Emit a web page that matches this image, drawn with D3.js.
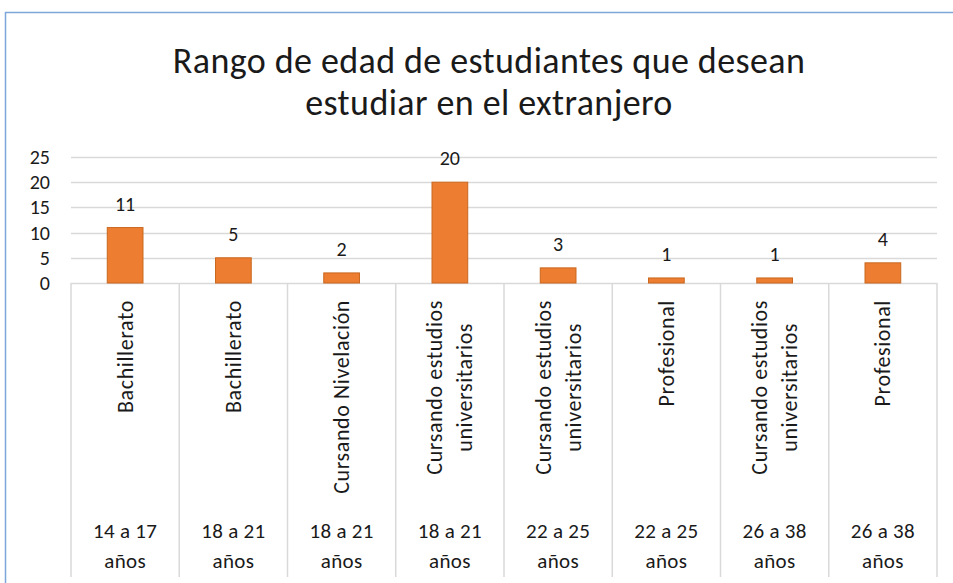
<!DOCTYPE html>
<html>
<head>
<meta charset="utf-8">
<script src="https://cdn.jsdelivr.net/npm/d3@7"></script>
<style>
  html, body { margin: 0; padding: 0; background: #fff; }
  svg text { font-family: Carlito, Calibri, Lato, sans-serif; fill: #1a1a1a; }
</style>
</head>
<body>
<div id="chart"></div>
<script>
// chart data
const titleLines = ['Rango de edad de estudiantes que desean', 'estudiar en el extranjero'];
const levels = [
  ['Bachillerato'],
  ['Bachillerato'],
  ['Cursando Nivelación'],
  ['Cursando estudios', 'universitarios'],
  ['Cursando estudios', 'universitarios'],
  ['Profesional'],
  ['Cursando estudios', 'universitarios'],
  ['Profesional']
];
const ageRanges = ['14 a 17', '18 a 21', '18 a 21', '18 a 21', '22 a 25', '22 a 25', '26 a 38', '26 a 38'];
const counts = [11, 5, 2, 20, 3, 1, 1, 4];
const yTicks = [0, 5, 10, 15, 20, 25];

const width = 953, height = 583;
const plot = { left: 71, right: 937, top: 157, bottom: 283 };

const svg = d3.select('#chart').append('svg')
  .attr('width', width)
  .attr('height', height);

// chart frame (only top and left edges visible in the crop)
svg.append('path')
  .attr('d', `M5.5,${height} L5.5,12.5 L${width},12.5`)
  .attr('fill', 'none')
  .attr('stroke', '#7ea6da')
  .attr('stroke-width', 1.5);

// title
svg.append('text')
  .attr('text-anchor', 'middle')
  .attr('font-size', 36)
  .attr('letter-spacing', 0.4)
  .selectAll('tspan')
  .data(titleLines)
  .join('tspan')
  .attr('x', 489)
  .attr('y', (d, i) => 73 + i * 42)
  .text(d => d);

const idx = d3.range(counts.length);
const x = d3.scaleBand()
  .domain(idx)
  .range([plot.left, plot.right])
  .paddingInner(0.67)
  .paddingOuter(0.335);
const step = x.step();

const y = d3.scaleLinear()
  .domain([0, 25])
  .range([plot.bottom, plot.top]);

// gridlines
svg.append('g')
  .selectAll('line')
  .data(yTicks.slice(1))
  .join('line')
  .attr('x1', plot.left).attr('x2', plot.right)
  .attr('y1', d => Math.round(y(d)) + 0.5)
  .attr('y2', d => Math.round(y(d)) + 0.5)
  .attr('stroke', '#d9d9d9')
  .attr('stroke-width', 1.5);

// y axis labels
svg.append('g')
  .selectAll('text')
  .data(yTicks)
  .join('text')
  .attr('x', 50)
  .attr('y', d => y(d))
  .attr('dy', '0.35em')
  .attr('text-anchor', 'end')
  .attr('font-size', 20)
  .text(d => d);

// category axis: baseline + separators
const axis = svg.append('g');
axis.append('line')
  .attr('x1', plot.left).attr('x2', plot.right)
  .attr('y1', plot.bottom + 0.5).attr('y2', plot.bottom + 0.5)
  .attr('stroke', '#d9d9d9')
  .attr('stroke-width', 1.5);
axis.selectAll('line.sep')
  .data(d3.range(counts.length + 1))
  .join('line')
  .attr('class', 'sep')
  .attr('x1', i => plot.left + i * step)
  .attr('x2', i => plot.left + i * step)
  .attr('y1', plot.bottom)
  .attr('y2', 577)
  .attr('stroke', '#d9d9d9')
  .attr('stroke-width', 1.5);

// bars
svg.append('g')
  .selectAll('rect')
  .data(counts)
  .join('rect')
  .attr('x', (d, i) => x(i))
  .attr('y', d => y(d))
  .attr('width', x.bandwidth())
  .attr('height', d => y(0) - y(d))
  .attr('fill', '#ed7d31')
  .attr('stroke', '#c9671f')
  .attr('stroke-width', 1);

// data labels
svg.append('g')
  .selectAll('text')
  .data(counts)
  .join('text')
  .attr('x', (d, i) => x(i) + x.bandwidth() / 2)
  .attr('y', d => y(d) - 17)
  .attr('text-anchor', 'middle')
  .attr('font-size', 20)
  .text(d => d);

// rotated inner level labels, anchored at the top, lines centred on each other
const inner = svg.append('g');
levels.forEach((lines, i) => {
  const cx = plot.left + (i + 0.5) * step;
  const g = inner.append('g');
  const texts = lines.map(line => g.append('text')
    .attr('font-size', 22)
    .attr('letter-spacing', 0.6)
    .attr('text-anchor', 'middle')
    .attr('dominant-baseline', 'central')
    .text(line));
  const longest = d3.max(texts, t => t.node().getComputedTextLength());
  const cy = 300 + longest / 2;
  texts.forEach((t, j) => {
    const tx = cx + (j - (lines.length - 1) / 2) * 30;
    t.attr('transform', `translate(${tx},${cy}) rotate(-90)`);
  });
});

// outer level labels (age ranges)
svg.append('g')
  .selectAll('text')
  .data(ageRanges)
  .join('text')
  .attr('text-anchor', 'middle')
  .attr('font-size', 21)
  .attr('letter-spacing', 0.3)
  .selectAll('tspan')
  .data((d, i) => [d, 'años'].map(s => ({ s, i })))
  .join('tspan')
  .attr('x', d => plot.left + (d.i + 0.5) * step)
  .attr('y', (d, j) => 538 + j * 30)
  .text(d => d.s);
</script>
</body>
</html>
